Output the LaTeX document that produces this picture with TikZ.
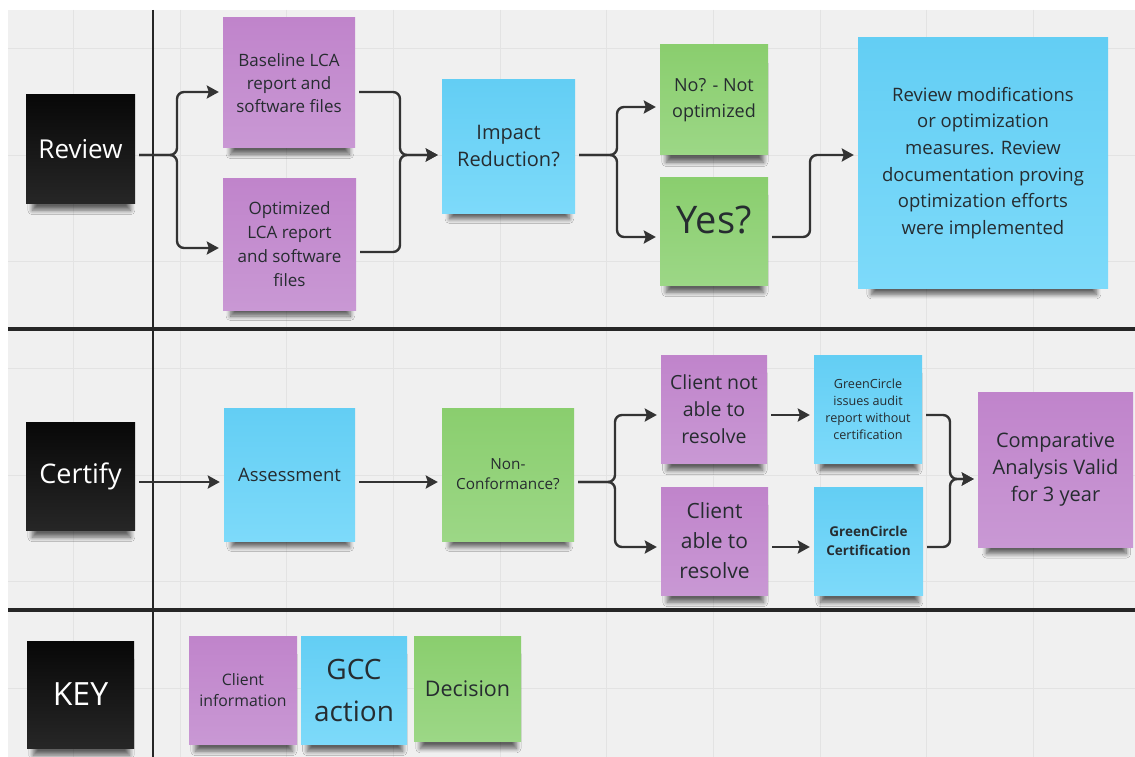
\documentclass[tikz,border=0pt]{standalone}
\usepackage{fontspec}
\setmainfont{Open Sans}
\usetikzlibrary{arrows.meta,shadows.blur}
\definecolor{bg}{HTML}{F0F0F0}
\definecolor{gridc}{HTML}{E3E3E3}
\definecolor{lanec}{HTML}{262626}
\definecolor{purT}{HTML}{C084CB}
\definecolor{purB}{HTML}{C998D4}
\definecolor{bluT}{HTML}{63CEF4}
\definecolor{bluB}{HTML}{7DDAFA}
\definecolor{grnT}{HTML}{8ACE6E}
\definecolor{grnB}{HTML}{9CD786}
\definecolor{txt}{HTML}{262C30}
\definecolor{arrc}{HTML}{333333}
\tikzset{
  fs/.style 2 args={font=\fontsize{#1}{#2}\selectfont},
  shad/.style={blur shadow={shadow xshift=1pt,shadow yshift=#1,shadow scale=0.9,shadow opacity=60,shadow blur steps=8,shadow blur radius=5pt}},
  shad/.default=-14pt,
  sticky/.style={rectangle, inner sep=2pt, align=center, text=txt, shad=#1},
  sticky/.default=-14pt,
  pur/.style={sticky=#1, top color=purT, bottom color=purB},
  pur/.default=-14pt,
  blu/.style={sticky=#1, top color=bluT, bottom color=bluB},
  blu/.default=-14pt,
  grn/.style={sticky=#1, top color=grnT, bottom color=grnB},
  grn/.default=-14pt,
  lab/.style={rectangle, inner sep=2pt, align=center, text=white, top color=black!97, bottom color=black!85, shad},
  conn/.style={draw=arrc, line width=2.4pt, rounded corners=7pt, -{Stealth[length=12pt,width=13pt,inset=2pt]}, shorten >=4pt, shorten <=4pt},
}
\begin{document}
\begin{tikzpicture}[x=1pt,y=-1pt]
\useasboundingbox (0,0) rectangle (1135,757);
\fill[white] (0,0) rectangle (1135,757);
\fill[bg] (8,10) rectangle (1135,757);
\foreach \x in {73,180,286,393,500,606,713,820,926,1033} \draw[gridc, line width=0.8pt] (\x,10) -- (\x,757);
\foreach \y in {48,155,261,368,475,581,688} \draw[gridc, line width=0.8pt] (8,\y) -- (1135,\y);
\draw[lanec, line width=2pt] (153,10) -- (153,757);
\draw[lanec, line width=4pt] (8,329) -- (1135,329);
\draw[lanec, line width=4pt] (8,610) -- (1135,610);

% lane labels
\node[lab, minimum width=109pt, minimum height=108pt, fs={26}{30}] (rev) at (80.5,149) {Review};
\node[lab, minimum width=109pt, minimum height=108pt, fs={27}{30}] (cert) at (80.5,476) {Certify};
\node[lab, minimum width=107pt, minimum height=107pt, fs={32}{36}] (key) at (80.5,694.5) {KEY};

% review band
\node[pur, minimum width=132pt, minimum height=130pt, fs={17}{23}] (base) at (289,83) {Baseline LCA\\report and\\software files};
\node[pur, minimum width=133pt, minimum height=132pt, fs={17}{24}] (opt) at (289.5,244) {Optimized\\LCA report\\and software\\files};
\node[blu, minimum width=133pt, minimum height=133pt, fs={20}{27}] (imp) at (508.5,146.5) {Impact\\Reduction?};
\node[grn, minimum width=108pt, minimum height=110pt, fs={18}{26}] (no) at (714,100) {No? - Not\\optimized};
\node[grn, minimum width=108pt, minimum height=108pt, fs={38}{44}] (yes) at (714,231) {\raisebox{-2.5pt}[0pt][0pt]{Yes?}};
\node[blu=-21pt, minimum width=250pt, minimum height=250pt, fs={18.5}{26.7}] (rm) at (983,163) {Review modifications\\or optimization\\measures. Review\\documentation proving\\optimization efforts\\were implemented};

% certify band
\node[blu, minimum width=131pt, minimum height=133pt, fs={18.5}{24}] (assess) at (289.5,474.5) {Assessment};
\node[grn, minimum width=132pt, minimum height=133pt, fs={15.3}{20}] (nonc) at (508,474.5) {Non-\\Conformance?};
\node[pur, minimum width=106pt, minimum height=108pt, fs={19.5}{27}] (cnot) at (714,409) {Client not\\able to\\resolve};
\node[pur, minimum width=107pt, minimum height=108pt, fs={21}{30}] (cable) at (714.5,541) {Client\\able to\\resolve};
\node[blu, minimum width=108pt, minimum height=108pt, fs={12.6}{17}] (gci) at (868,409) {GreenCircle\\issues audit\\report without\\certification};
\node[blu, minimum width=109pt, minimum height=108pt, font=\fontsize{13.5}{19}\selectfont\bfseries] (gcc) at (868.5,541) {GreenCircle\\Certification};
\node[pur=-16pt, minimum width=155pt, minimum height=155pt, fs={20}{27}] (comp) at (1055.5,469.5) {Comparative\\Analysis Valid\\for 3 year};

% key band
\node[pur, minimum width=108pt, minimum height=108pt, fs={15.8}{21}] (kci) at (243,690) {Client\\information};
\node[blu, minimum width=106pt, minimum height=108pt, fs={28}{42}] (kgcc) at (354,690) {GCC\\action};
\node[grn, minimum width=107pt, minimum height=105pt, fs={21.5}{26}] (kdec) at (467.5,688.5) {Decision};

% connectors review band
\coordinate (f1) at (177,155);
\coordinate (m1) at (400,155);
\coordinate (f2) at (617,155);
\coordinate (m2) at (810,155);
\draw[conn] (rev.east |- f1) -- (f1) |- (base.west |- 0,92);
\draw[conn] (rev.east |- f1) -- (f1) |- (opt.west |- 0,248);
\draw[conn] (base.east |- 0,92) -| (m1) -- (imp.west |- m1);
\draw[conn] (opt.east |- 0,252) -| (m1) -- (imp.west |- m1);
\draw[conn] (imp.east |- f2) -- (f2) |- (no.west |- 0,107);
\draw[conn] (imp.east |- f2) -- (f2) |- (yes.west |- 0,237);
\draw[conn] (yes.east |- 0,237) -| (m2) -- (rm.west |- m2);

% connectors certify band
\coordinate (f3) at (615,482);
\coordinate (m3) at (950,479);
\draw[conn] (cert.east |- 0,482) -- (assess.west |- 0,482);
\draw[conn] (assess.east |- 0,482) -- (nonc.west |- 0,482);
\draw[conn] (nonc.east |- f3) -- (f3) |- (cnot.west |- 0,415);
\draw[conn] (nonc.east |- f3) -- (f3) |- (cable.west |- 0,547);
\draw[conn] (cnot.east |- 0,415) -- (gci.west |- 0,415);
\draw[conn] (cable.east |- 0,547) -- (gcc.west |- 0,547);
\draw[conn] (gci.east |- 0,415) -| (m3) -- (comp.west |- m3);
\draw[conn] (gcc.east |- 0,547) -| (m3) -- (comp.west |- m3);
\end{tikzpicture}
\end{document}
